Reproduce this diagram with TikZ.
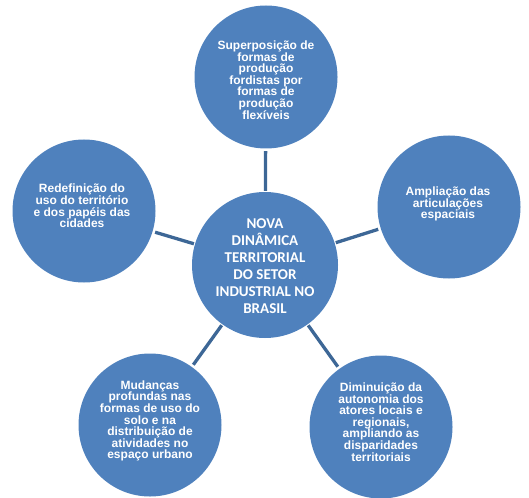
\documentclass[tikz,border=0pt]{standalone}
\usepackage{fontspec}
\setmainfont{Liberation Sans}
\newfontfamily\arialb{Liberation Sans Bold}
\newfontfamily\calibb{Carlito Bold}
\definecolor{circfill}{HTML}{4F81BD}
\definecolor{linkcol}{HTML}{3D6796}
\tikzset{
  circ/.style={circle, fill=circfill, inner sep=0pt},
  outer/.style={circ, minimum size=143pt},
  inner/.style={circ, minimum size=146pt},
  txt/.style={text=white, align=center, font=\arialb\fontsize{12}{11.6}\selectfont, inner sep=0pt},
  ctxt/.style={text=white, align=center, font=\calibb\fontsize{15}{17}\selectfont, inner sep=0pt},
  link/.style={draw=linkcol, line width=3.3pt, shorten >=2.5pt, shorten <=1pt}
}
\begin{document}
\begin{tikzpicture}[x=1pt,y=-1pt]
\useasboundingbox (0,0) rectangle (529,497);
\node[inner] (c) at (265,265) {};
\node[outer] (t) at (266,77) {};
\node[outer] (l) at (84,211) {};
\node[outer] (r) at (449,207) {};
\node[outer] (bl) at (150,425) {};
\node[outer] (br) at (381,427) {};
\draw[link] (c) -- (t);
\draw[link] (c) -- (l);
\draw[link] (c) -- (r);
\draw[link] (c) -- (bl);
\draw[link] (c) -- (br);
\node[ctxt] (ct) at (265,266) {NOVA\\DINÂMICA\\TERRITORIAL\\DO SETOR\\INDUSTRIAL NO\\BRASIL};
\node[txt] (tt) at (266,80) {Superposição de\\formas de\\produção\\fordistas por\\formas de\\produção\\flexíveis};
\node[txt] (lt) at (82,206) {Redefinição do\\uso do território\\e dos papéis das\\cidades};
\node[txt] (rt) at (448,204) {Ampliação das\\articulações\\espaciais};
\node[txt] (blt) at (150,421) {Mudanças\\profundas nas\\formas de uso do\\solo e na\\distribuição de\\atividades no\\espaço urbano};
\node[txt] (brt) at (381,422) {Diminuição da\\autonomia dos\\atores locais e\\regionais,\\ampliando as\\disparidades\\territoriais};
\end{tikzpicture}
\end{document}
